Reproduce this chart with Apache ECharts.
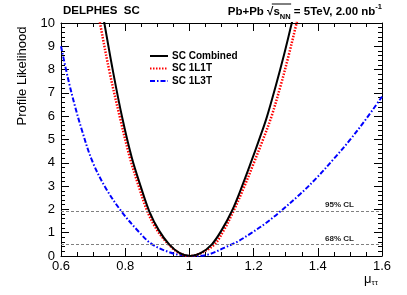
<!DOCTYPE html>
<html><head><meta charset="utf-8">
<script src="https://cdn.jsdelivr.net/npm/echarts@6/dist/echarts.min.js"></script>
<style>html,body{margin:0;padding:0;background:#fff}#c{width:407px;height:295px}</style>
</head><body><div id="c"></div>
<script>
// ---- data ----
const combinedX = [0.725, 0.735, 0.763, 0.791, 0.820, 0.848, 0.875, 0.905, 0.937, 0.970, 1.003, 1.035, 1.070, 1.100, 1.132, 1.160, 1.190, 1.220, 1.241, 1.270, 1.295, 1.319, 1.330];
const combinedY = [10.8, 10.0, 7.85, 5.92, 4.25, 3.0, 1.92, 1.1, 0.5, 0.125, 0.0, 0.12, 0.5, 1.1, 1.92, 2.85, 3.95, 5.1, 5.95, 7.35, 8.65, 10.0, 10.6];
const l1tX = [0.712, 0.7215, 0.752, 0.784, 0.815, 0.842, 0.869, 0.900, 0.935, 0.968, 1.000, 1.035, 1.078, 1.107, 1.137, 1.167, 1.198, 1.228, 1.256, 1.285, 1.310, 1.334, 1.345];
const l1tY = [10.8, 10.0, 7.85, 5.92, 4.2, 3.0, 1.92, 1.1, 0.5, 0.13, 0.0, 0.12, 0.5, 1.1, 1.92, 2.85, 3.9, 4.95, 6.0, 7.35, 8.65, 10.0, 10.6];
const l3tX = [0.600, 0.623, 0.644, 0.664, 0.696, 0.737, 0.789, 0.845, 0.884, 0.940, 0.985, 1.017, 1.060, 1.110, 1.150, 1.189, 1.235, 1.278, 1.3445, 1.397, 1.448, 1.500, 1.552, 1.600];
const l3tY = [9.0, 7.55, 6.41, 5.45, 4.12, 2.97, 1.90, 1.0, 0.5, 0.15, 0.02, 0.0, 0.07, 0.36, 0.62, 0.95, 1.38, 1.85, 2.65, 3.36, 4.14, 4.98, 5.91, 6.84];
const seriesNames = ['SC Combined', 'SC 1L1T', 'SC 1L3T'];
const clLevels = [1.92, 0.5];
const clLabels = ['95% CL', '68% CL'];
const xRange = [0.6, 1.6];
const yRange = [0, 10];

const zip = (xs, ys) => xs.map((x, i) => [x, ys[i]]);
const FONT = '"Liberation Sans", Arial, Helvetica, sans-serif';

// measure text segments of the right-hand title to place the radical's overline
const mctx = document.createElement('canvas').getContext('2d');
const tw = (t, f) => { mctx.font = f; return mctx.measureText(t).width; };
const TF = 'bold 11.5px ' + FONT, TS = 'bold 7.5px ' + FONT;
const segA = 'Pb+Pb ', segR = '√', segS = 's', segN = 'NN', segB = ' = 5TeV, 2.00 nb', segE = '-1';
const titleRight = 382;
const titleW = tw(segA, TF) + tw(segR, TF) + tw(segS, TF) + tw(segN, TS) + tw(segB, TF) + tw(segE, TS);
const rootX = titleRight - titleW + tw(segA, TF);
const barX1 = rootX + tw(segR, TF) * 0.75;
const barX2 = rootX + tw(segR, TF) + tw(segS, TF) + tw(segN, TS) + 0.5;

const chart = echarts.init(document.getElementById('c'), null, {renderer: 'canvas'});

const axisCommon = {
  axisLine: {show: true, onZero: false, lineStyle: {color: '#000', width: 1}},
  axisTick: {show: true, inside: true, length: 8, lineStyle: {color: '#000'}},
  splitLine: {show: false},
  minorSplitLine: {show: false}
};
const xMinor = {minorTick: {show: true, splitNumber: 4, length: 4, lineStyle: {color: '#000'}}};
const yMinor = {minorTick: {show: true, splitNumber: 5, length: 4, lineStyle: {color: '#000'}}};

const option = {
  animation: false,
  backgroundColor: '#fff',
  grid: {left: 61, right: 25, top: 23, bottom: 39, containLabel: false},
  xAxis: [
    Object.assign({type: 'value', min: xRange[0], max: xRange[1], interval: 0.2, position: 'bottom',
      axisLabel: {show: true, margin: 4, fontSize: 13, color: '#000', fontFamily: FONT}}, axisCommon, xMinor),
    Object.assign({type: 'value', min: xRange[0], max: xRange[1], interval: 0.2, position: 'top',
      axisLabel: {show: false}}, axisCommon, xMinor)
  ],
  yAxis: [
    Object.assign({type: 'value', min: yRange[0], max: yRange[1], interval: 1, position: 'left',
      axisLabel: {show: true, margin: 6, fontSize: 13, color: '#000', fontFamily: FONT}}, axisCommon, yMinor),
    Object.assign({type: 'value', min: yRange[0], max: yRange[1], interval: 1, position: 'right',
      axisLabel: {show: false}}, axisCommon, yMinor)
  ],
  legend: {
    orient: 'vertical', left: 149, top: 51, padding: 0, itemWidth: 18, itemHeight: 10, itemGap: 2.5,
    itemStyle: {opacity: 0, borderWidth: 0},
    textStyle: {fontFamily: FONT, fontWeight: 'bold', fontSize: 10, color: '#000', padding: [0, 0, 0, -1]},
    data: seriesNames
  },
  series: [
    {
      name: seriesNames[2], type: 'line', data: zip(l3tX, l3tY), symbol: 'none', smooth: 0.35, clip: true,
      lineStyle: {color: '#0000ff', width: 2, type: [5, 2, 1.5, 2]}, itemStyle: {color: '#0000ff'}, z: 3
    },
    {
      name: seriesNames[1], type: 'line', data: zip(l1tX, l1tY), symbol: 'none', smooth: 0.35, clip: true,
      lineStyle: {color: '#ff0000', width: 2.5, type: [1.5, 1.5]}, itemStyle: {color: '#ff0000'}, z: 4
    },
    {
      name: seriesNames[0], type: 'line', data: zip(combinedX, combinedY), symbol: 'none', smooth: 0.35, clip: true,
      lineStyle: {color: '#000', width: 2}, itemStyle: {color: '#000'}, z: 5,
      markLine: {
        silent: true, symbol: 'none', animation: false,
        lineStyle: {color: '#808080', width: 1, type: [3, 2]},
        label: {show: true, position: 'insideEndTop', distance: 2, padding: [0, 26, 0, 0],
          fontFamily: FONT, fontWeight: 'bold', fontSize: 8, color: '#222',
          formatter: p => p.name},
        data: clLevels.map((v, i) => ({name: clLabels[i], yAxis: v}))
      }
    }
  ],
  graphic: [
    {type: 'text', x: 63, y: 11, style: {text: 'DELPHES  SC', font: 'bold 11.5px ' + FONT, fill: '#000', verticalAlign: 'middle'}},
    {type: 'text', x: titleRight, y: 12, style: {
      text: '{m|' + segA + '}{m|' + segR + '}{m|' + segS + '}{sub|' + segN + '}{m|' + segB + '}{sup|' + segE + '}',
      align: 'right', verticalAlign: 'middle',
      rich: {
        m: {font: TF, fill: '#000', lineHeight: 18, verticalAlign: 'middle'},
        sub: {font: TS, fill: '#000', lineHeight: 9, verticalAlign: 'bottom'},
        sup: {font: TS, fill: '#000', lineHeight: 9, verticalAlign: 'top'}
      }}},
    {type: 'line', shape: {x1: barX1, y1: 4, x2: barX2, y2: 4}, style: {stroke: '#000', lineWidth: 1}},
    {type: 'text', x: 22, y: 76, rotation: Math.PI / 2, style: {
      text: 'Profile Likelihood', font: '13px ' + FONT, fill: '#000', align: 'center', verticalAlign: 'middle'}},
    {type: 'text', x: 364, y: 279, style: {
      text: '{m|μ}{s|ττ}', verticalAlign: 'middle',
      rich: {
        m: {font: '13px ' + FONT, fill: '#000', lineHeight: 16, verticalAlign: 'middle'},
        s: {font: '8px ' + FONT, fill: '#000', lineHeight: 9, verticalAlign: 'bottom'}
      }}}
  ]
};
chart.setOption(option);
</script>
</body></html>
